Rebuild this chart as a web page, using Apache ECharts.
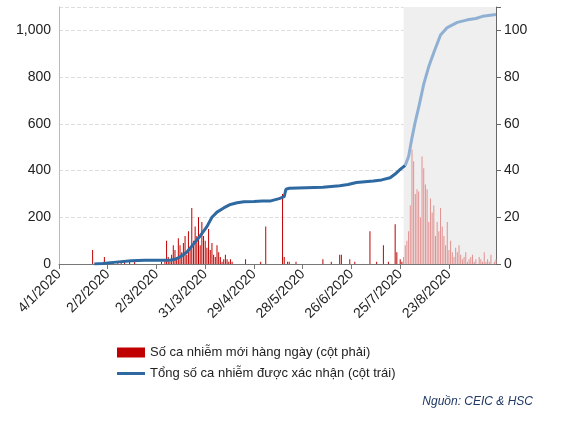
<!DOCTYPE html>
<html><head><meta charset="utf-8">
<script src="https://cdn.jsdelivr.net/npm/echarts@6/dist/echarts.min.js"></script>
<style>html,body{margin:0;padding:0;background:#fff}#c{width:561px;height:425px}</style>
</head><body><div id="c"></div>
<script>
const startDate = [2020, 0, 4];
const dailyNew = [
0,0,0,0,0,
0,0,0,0,0,0,0,0,0,0,
0,0,0,0,0,6,0,0,0,0,
0,0,3,0,0,1,0,1,0,0,
1,0,1,0,1,0,0,1,0,0,
1,0,0,0,0,0,0,0,0,0,
0,0,0,0,0,0,1,0,2,10,
3,1,4,8,6,3,11,8,5,9,
12,4,14,7,24,10,16,12,20,8,
18,12,10,7,15,6,9,4,3,8,
5,3,1,2,4,2,1,2,1,0,
0,0,0,0,0,0,2,0,0,0,
0,0,0,0,0,1,0,0,16,0,
0,
0,0,0,0,0,0,0,30,3,0,
1,1,0,0,0,1,0,0,0,0,
0,0,0,0,0,0,0,0,0,0,
0,2,0,0,0,0,1,0,0,0,
0,4,4,0,0,0,0,2,0,0,
1,0,0,0,0,0,0,0,0,14,
0,0,0,1,0,0,0,8,0,0,
1,0,0,0,17,5,0,2,1,3,
8,10,14,25,49,44,30,32,31,20,
46,41,34,32,18,28,22,25,12,18,
14,24,16,12,8,18,6,10,5,3,
7,5,8,4,2,3,5,1,2,3,
4,1,2,0,3,2,1,5,1,2,
1,4,0,1,2];
const cumulativeEarly = [
[21,0],[26,2],[34,8],[43,14],[51,16],[66,16],[69,20],[72,30],[76,50],[80,85],[84,120],
[88,160],[91,200],[94,222],[98,240],[102,255],[106,262],[110,266],[116,268],[121,270],
[126,270],[131,280],[134,288],[135,320],[137,324],[147,326],[157,328],[167,335],[172,340],
[177,349],[182,352],[187,355],[192,360],[197,369],[200,385],[203,405],[206,422]];
const cumulativeLate = [
[206,422],[208,460],[210,540],[212,610],[214,670],[217,770],[220,845],[223,905],[227,980],
[231,1012],[237,1034],[243,1045],[248,1051],[252,1060],[260,1068]];
const shadeStart = 205;
const legendBar = 'Số ca nhiễm mới hàng ngày (cột phải)';
const legendLine = 'Tổng số ca nhiễm được xác nhận (cột trái)';
const sourceText = 'Nguồn: CEIC & HSC';

const categories = dailyNew.map((v,i)=>{const d=new Date(startDate[0],startDate[1],startDate[2]+i);return d.getDate()+'/'+(d.getMonth()+1)+'/'+d.getFullYear();});
const chart = echarts.init(document.getElementById('c'));
chart.setOption({
  animation:false,
  textStyle:{fontFamily:'Liberation Sans, Arial, sans-serif'},
  grid:{left:59,right:65,top:7,bottom:161},
  legend:{orient:'vertical',left:112,top:341,itemGap:8,itemWidth:28,itemHeight:10,
    textStyle:{fontSize:13,color:'#222'},
    data:[{name:legendBar,icon:'rect',itemStyle:{color:'#c00000'}},{name:legendLine,icon:'path://M0,4 L28,4 L28,7 L0,7 Z',itemStyle:{color:'#2e6aa1'}}]},
  graphic:[{type:'text',right:28,top:396,style:{text:sourceText,font:'italic 12px Liberation Sans, Arial',fill:'#1f3864'}}],
  xAxis:{type:'category',data:categories,boundaryGap:false,
    axisLine:{lineStyle:{color:'#777'}},
    axisTick:{interval:(i)=>i%29===0,length:5,lineStyle:{color:'#777'}},
    axisLabel:{interval:(i)=>i%29===0,rotate:45,fontSize:14,color:'#222',margin:8}},
  yAxis:[
    {type:'value',min:0,max:1100,interval:200,position:'left',
     axisLine:{show:true,lineStyle:{color:'#bbb'}},axisTick:{show:false},
     axisLabel:{fontSize:14,color:'#222',formatter:v=>v>1000?'':v.toLocaleString('en-US')},
     splitLine:{show:true,lineStyle:{type:'dashed',color:'#ddd'}}},
    {type:'value',min:0,max:110,interval:20,position:'right',
     axisLine:{show:true,lineStyle:{color:'#666'}},axisTick:{show:true,lineStyle:{color:'#666'}},
     axisLabel:{fontSize:14,color:'#222',formatter:v=>v>100?'':v},splitLine:{show:false}}
  ],
  series:[
    {name:legendBar,type:'bar',yAxisIndex:1,data:dailyNew,barWidth:'55%',
     itemStyle:{color:p=>p.dataIndex>=shadeStart?'#e48f8f':'#c00000'}},
    {name:legendLine,type:'line',yAxisIndex:0,data:cumulativeEarly,showSymbol:false,lineStyle:{width:3,color:'#2e6aa1'},itemStyle:{color:'#2e6aa1'},z:3},
    {name:'late',type:'line',yAxisIndex:0,data:cumulativeLate,showSymbol:false,lineStyle:{width:3,color:'#8fb0d3'},z:3,
     markArea:{silent:true,itemStyle:{color:'#efefef'},data:[[{coord:[shadeStart,0]},{coord:[categories.length-1,1100]}]]}}
  ]
});
</script></body></html>
